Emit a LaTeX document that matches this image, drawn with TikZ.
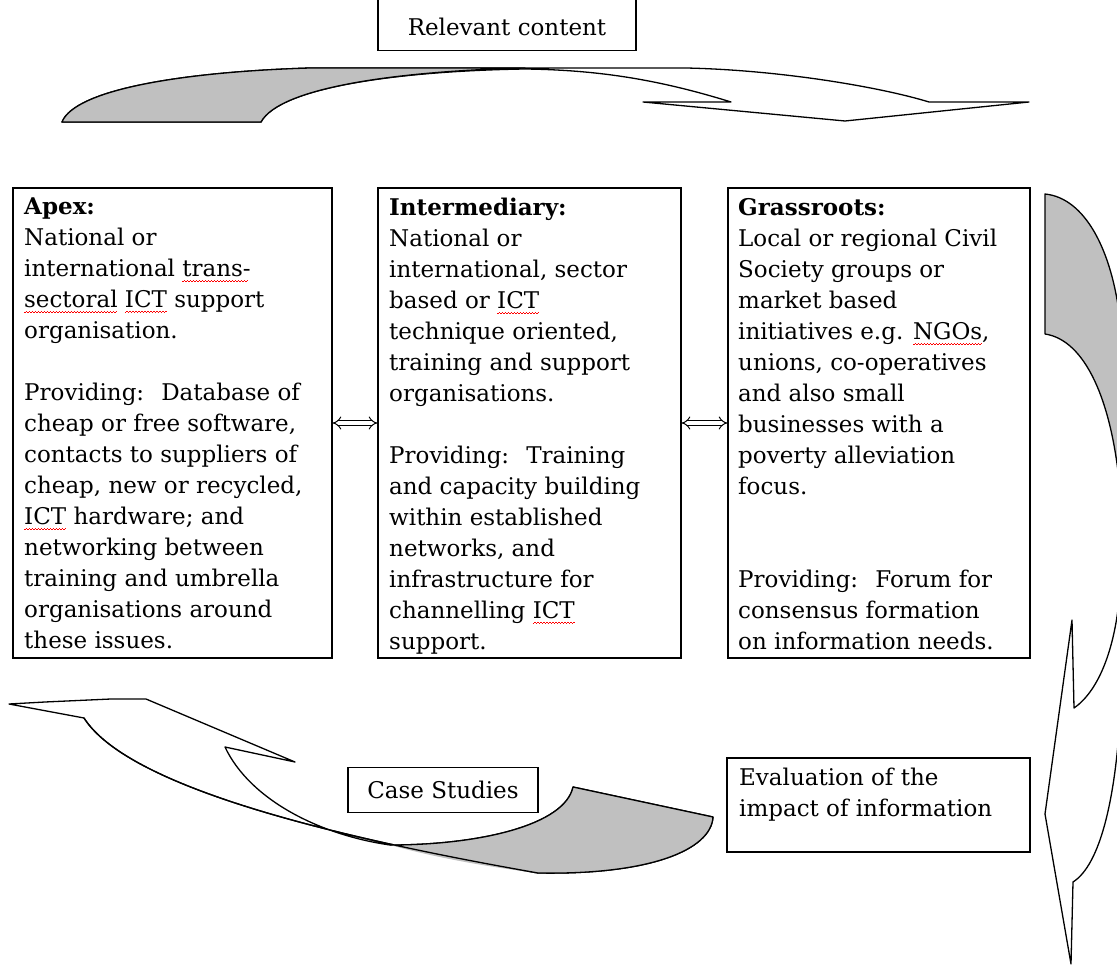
\documentclass[tikz,border=0pt]{standalone}
\usepackage{fontspec}
\setmainfont{DejaVu Serif}
\usetikzlibrary{arrows.meta}
\definecolor{shadegray}{RGB}{192,192,192}
\newcommand\sq[1]{\setbox0=\hbox{#1}\leavevmode\rlap{\color{red}\raisebox{-5pt}{\leaders\hbox{\rule{1.5pt}{0.7pt}\rule[0.9pt]{1.5pt}{0.7pt}}\hskip\wd0}}\box0\relax}
\tikzset{
  bigbox/.style={draw=black, line width=1.2pt, rectangle, inner sep=0pt},
  txt/.style={font=\fontsize{23}{31}\selectfont, align=left, inner sep=0pt, anchor=north west},
  lbl/.style={font=\fontsize{23}{31}\selectfont, inner sep=0pt},
  dbl/.style={double, double distance=3.5pt, line width=1pt, {Implies}-{Implies}},
  ribbon/.style={draw=black, line width=1.3pt, line join=round, fill=white},
  shade/.style={fill=shadegray, draw=none},
  edge/.style={draw=black, line width=1.3pt, line join=round}
}
\begin{document}
\begin{tikzpicture}[x=1pt,y=-1pt]
\useasboundingbox (0,0) rectangle (1117,965);
\clip (0,0) rectangle (1117,965);

% ---------- top curved arrow ----------
\draw[ribbon] (62,122) .. controls (75,90) and (180,72) .. (310,68) -- (686,68)
  .. controls (780,70) and (880,87) .. (929,102) -- (1029,102) -- (845,121) -- (643,102) -- (731,102)
  .. controls (660,80) and (600,70) .. (525,69)
  .. controls (400,71) and (280,87) .. (261,122) -- cycle;
\fill[shade] (62,122) .. controls (75,90) and (180,72) .. (310,68) -- (525,68)
  .. controls (400,71) and (280,87) .. (261,122) -- cycle;
\draw[edge] (62,122) .. controls (75,90) and (180,72) .. (310,68) -- (525,68)
  .. controls (400,71) and (280,87) .. (261,122) -- cycle;

% ---------- right curved arrow ----------
\fill[shade] (1045,194) .. controls (1085,198) and (1112,250) .. (1120,320) -- (1130,320) -- (1130,490) -- (1120,490)
  .. controls (1112,400) and (1085,340) .. (1045,334) -- cycle;
\draw[edge] (1120,320) .. controls (1112,250) and (1085,198) .. (1045,194) -- (1045,334)
  .. controls (1085,340) and (1112,400) .. (1120,490);
\draw[edge] (1120,590) .. controls (1116,645) and (1100,690) .. (1074,708)
  -- (1072,620) -- (1045,814) -- (1071,964) -- (1073,882)
  .. controls (1100,865) and (1115,800) .. (1120,718);

% ---------- bottom-left curved arrow ----------
\draw[ribbon] (9,704) -- (45,702) -- (111,699) -- (146,699) -- (295,762) -- (225,747)
  .. controls (250,800) and (320,835) .. (390,845)
  .. controls (480,845) and (565,825) .. (573,787) -- (713,817)
  .. controls (711,850) and (650,875) .. (538,873)
  .. controls (350,840) and (130,790) .. (84,718) -- cycle;
\fill[shade] (390,845) .. controls (480,845) and (565,825) .. (573,787) -- (713,817)
  .. controls (711,850) and (650,875) .. (538,873)
  .. controls (480,866) and (430,856) .. (390,845) -- cycle;
\draw[edge] (390,845) .. controls (480,845) and (565,825) .. (573,787) -- (713,817)
  .. controls (711,850) and (650,875) .. (538,873)
  .. controls (350,840) and (130,790) .. (84,718);

% ---------- top label ----------
\node[bigbox, fill=white, minimum width=258pt, minimum height=80pt, anchor=south] (rel) at (507,51) {};
\node[lbl] (reltxt) at (507,27) {Relevant content};

% ---------- main boxes ----------
\node[bigbox, minimum width=319pt, minimum height=470pt] (apex) at (172.5,423) {};
\node[txt] (apextxt) at (24,198) {\textbf{Apex:}\\
National or\\
international \sq{trans-}\\
\sq{sectoral} \sq{ICT} support\\
organisation.\\[31pt]
Providing:~ Database of\\
cheap or free software,\\
contacts to suppliers of\\
cheap, new or recycled,\\
\sq{ICT} hardware; and\\
networking between\\
training and umbrella\\
organisations around\\
these issues.};

\node[bigbox, minimum width=303pt, minimum height=470pt] (inter) at (529.5,423) {};
\node[txt] (intertxt) at (389,198) {\textbf{Intermediary:}\\
National or\\
international, sector\\
based or \sq{ICT}\\
technique oriented,\\
training and support\\
organisations.\\[31pt]
Providing:~ Training\\
and capacity building\\
within established\\
networks, and\\
infrastructure for\\
channelling \sq{ICT}\\
support.};

\node[bigbox, minimum width=302pt, minimum height=470pt] (grass) at (879,423) {};
\node[txt] (grasstxt) at (738,198) {\textbf{Grassroots:}\\
Local or regional Civil\\
Society groups or\\
market based\\
initiatives e.g. \sq{NGOs},\\
unions, co-operatives\\
and also small\\
businesses with a\\
poverty alleviation\\
focus.\\[62pt]
Providing:~ Forum for\\
consensus formation\\
on information needs.};

\draw[dbl] (apex.east) -- (inter.west);
\draw[dbl] (inter.east) -- (grass.west);

% ---------- lower labels ----------
\node[bigbox, lbl, fill=white, minimum width=190pt, minimum height=45pt] (case) at (443,790) {Case Studies};
\node[bigbox, fill=white, minimum width=303pt, minimum height=94pt] (eval) at (878.5,805) {};
\node[txt] (evaltxt) at (739,768) {Evaluation of the\\ impact of information};
\end{tikzpicture}
\end{document}
